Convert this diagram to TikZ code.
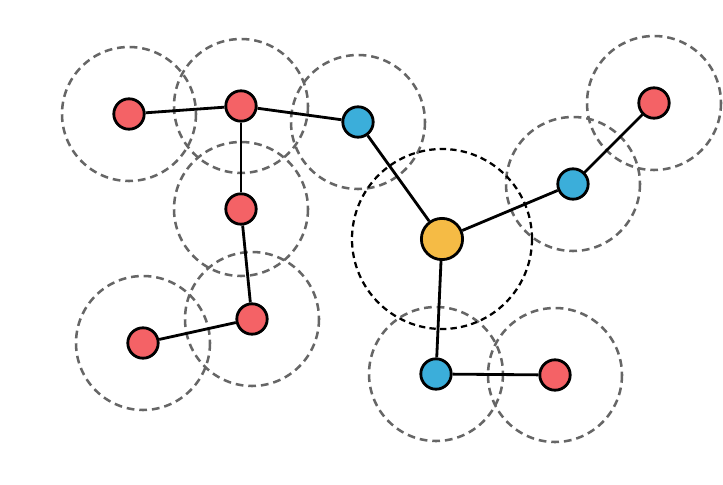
\documentclass[tikz,border=0pt]{standalone}
\usetikzlibrary{positioning}
\definecolor{Coral}{HTML}{F46266}
\definecolor{Sky}{HTML}{3BAEDA}
\definecolor{Amber}{HTML}{F5BB45}
\definecolor{Ash}{HTML}{666666}

\begin{document}
\begin{tikzpicture}[x=0.025cm, y=-0.025cm,
  leaf/.style={circle, draw=black, line width=2pt, fill=Coral, minimum size=0.76cm, inner sep=0pt},
  hub/.style={circle, draw=black, line width=2pt, fill=Sky, minimum size=0.76cm, inner sep=0pt},
  core/.style={circle, draw=black, line width=2pt, fill=Amber, minimum size=1.03cm, inner sep=0pt},
  link/.style={draw=black, line width=2pt},
  reach/.style={draw=Ash, line width=1.8pt, dash pattern=on 5.5pt off 3.5pt},
  bigreach/.style={draw=black, line width=1.6pt, dash pattern=on 4.5pt off 3pt}]
\useasboundingbox (0,0) rectangle (723,485);

% ranges
\foreach \x/\y in {129/114, 241/106, 358/122, 241/209, 252/319, 143/343, 573/184, 654/103, 436/374, 555/375}
  \draw[reach] (\x,\y) circle (67);
\draw[bigreach] (442,239) circle (90);

% nodes
\node[leaf] (a) at (129,114) {};
\node[leaf] (b) at (241,106) {};
\node[hub] (c) at (358,122) {};
\node[leaf] (d) at (241,209) {};
\node[leaf] (e) at (252,319) {};
\node[leaf] (f) at (143,343) {};
\node[core] (g) at (442,239) {};
\node[hub] (h) at (573,184) {};
\node[leaf] (i) at (654,103) {};
\node[hub] (j) at (436,374) {};
\node[leaf] (k) at (555,375) {};

% links
\draw[link] (a) -- (b);
\draw[link] (b) -- (c);
\draw[link] (b) -- (d);
\draw[link] (d) -- (e);
\draw[link] (e) -- (f);
\draw[link] (c) -- (g);
\draw[link] (g) -- (h);
\draw[link] (h) -- (i);
\draw[link] (g) -- (j);
\draw[link] (j) -- (k);
\end{tikzpicture}
\end{document}
